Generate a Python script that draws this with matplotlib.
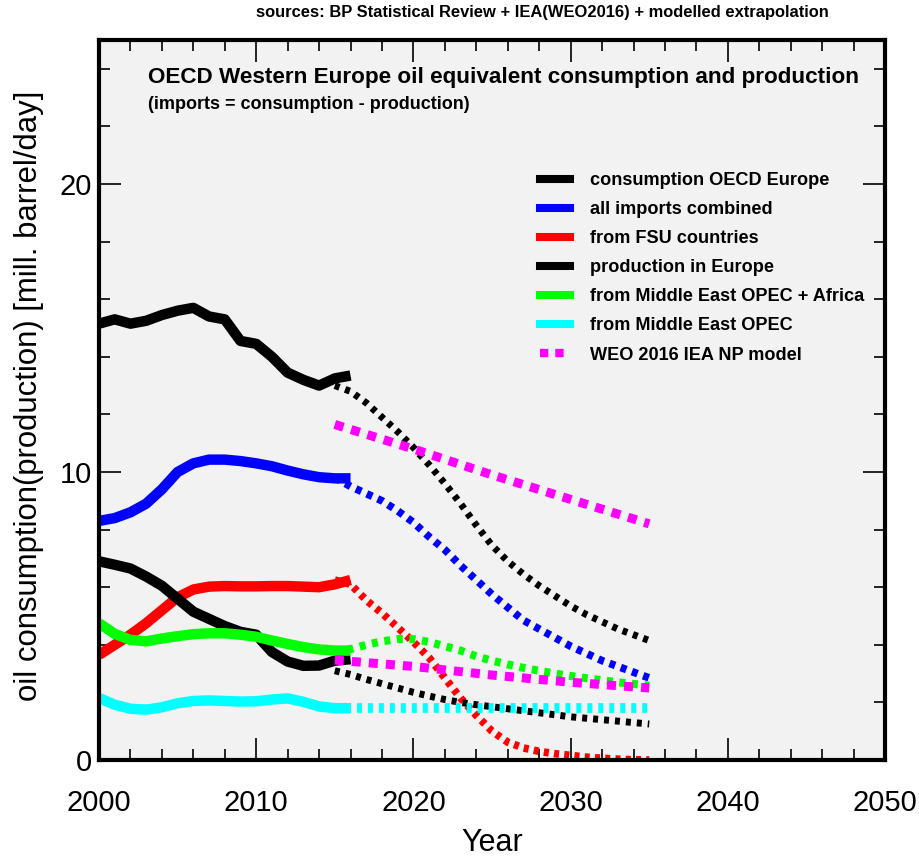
import numpy as np
import matplotlib
matplotlib.use("Agg")
import matplotlib.pyplot as plt
from matplotlib.lines import Line2D

plt.rcParams['font.family'] = ['Liberation Sans', 'DejaVu Sans']
plt.rcParams['lines.scale_dashes'] = False

# historical years (solid) and extrapolation years (dotted)
hist_years = list(range(2000, 2017))
fut_years = list(range(2015, 2036))
weo_years = [2015, 2020, 2025, 2030, 2035]

consumption = [15.15, 15.3, 15.15, 15.25, 15.45, 15.6, 15.7, 15.4, 15.3, 14.55,
               14.45, 14.0, 13.45, 13.2, 13.0, 13.25, 13.35]
consumption_fut = [13.0, 12.8, 12.4, 11.9, 11.4, 10.85, 10.25, 9.6, 8.9, 8.15, 7.45,
                   6.9, 6.45, 6.05, 5.7, 5.35, 5.05, 4.8, 4.55, 4.35, 4.15]

imports = [8.3, 8.4, 8.6, 8.9, 9.4, 10.0, 10.3, 10.43, 10.43, 10.38, 10.3, 10.2,
           10.05, 9.92, 9.82, 9.78, 9.78]
imports_fut = [9.8, 9.5, 9.25, 9.0, 8.65, 8.25, 7.75, 7.3, 6.75, 6.25, 5.75, 5.3,
               4.85, 4.55, 4.25, 3.95, 3.7, 3.45, 3.25, 3.05, 2.85]

fsu = [3.65, 4.0, 4.35, 4.75, 5.2, 5.65, 5.92, 6.02, 6.04, 6.03, 6.03, 6.04, 6.04,
       6.02, 6.0, 6.1, 6.25]
fsu_fut = [6.25, 6.1, 5.55, 5.1, 4.6, 4.1, 3.55, 2.85, 2.15, 1.55, 1.0, 0.62, 0.42,
           0.3, 0.22, 0.16, 0.1, 0.06, 0.03, 0.01, 0.0]

production = [6.9, 6.78, 6.65, 6.37, 6.05, 5.6, 5.15, 4.9, 4.65, 4.45, 4.35, 3.75,
              3.42, 3.27, 3.28, 3.45, 3.5]
production_fut = [3.1, 2.97, 2.8, 2.65, 2.5, 2.35, 2.22, 2.1, 2.0, 1.92, 1.85, 1.78,
                  1.71, 1.64, 1.57, 1.5, 1.45, 1.4, 1.35, 1.3, 1.25]

me_africa = [4.75, 4.38, 4.17, 4.12, 4.22, 4.3, 4.37, 4.4, 4.4, 4.35, 4.28, 4.15,
             4.03, 3.92, 3.84, 3.8, 3.8]
me_africa_fut = [3.8, 3.85, 4.0, 4.12, 4.2, 4.2, 4.1, 3.95, 3.8, 3.6, 3.45, 3.32,
                 3.2, 3.1, 3.0, 2.92, 2.84, 2.77, 2.7, 2.64, 2.58]

me_opec = [2.15, 1.92, 1.78, 1.75, 1.83, 1.97, 2.05, 2.07, 2.05, 2.03, 2.04, 2.1,
           2.14, 2.02, 1.86, 1.8, 1.8]
me_opec_fut = [1.8] * len(fut_years)

weo_consumption = [11.65, 10.8, 9.9, 9.05, 8.2]
weo_production = [3.47, 3.25, 2.95, 2.7, 2.5]

labels = ["consumption OECD Europe", "all imports combined", "from FSU countries",
          "production in Europe", "from Middle East OPEC + Africa",
          "from Middle East OPEC", "WEO 2016 IEA NP model"]

fig = plt.figure(figsize=(9.2, 8.58), dpi=100)
ax = fig.add_axes([0.1076, 0.1142, 0.8544, 0.8392])
ax.set_facecolor('#f2f2f2')

solid_lw = 7.5
series = [
    (consumption, consumption_fut, 'black', 5.0, (3.6, 4.3)),
    (imports, imports_fut, '#0000ff', 5.5, (4.3, 4.3)),
    (fsu, fsu_fut, '#ff0000', 5.5, (3.6, 3.8)),
    (production, production_fut, 'black', 5.0, (3.6, 4.3)),
    (me_africa, me_africa_fut, '#00ff00', 5.8, (4.3, 4.8)),
    (me_opec, me_opec_fut, '#00ffff', 7.0, (3.6, 4.3)),
]
for hist, fut, col, lw, dash in series:
    ax.plot(hist_years, hist, color=col, lw=solid_lw, solid_capstyle='butt',
            solid_joinstyle='round')
    ax.plot(fut_years, fut, color=col, lw=lw, dashes=dash, dash_capstyle='butt')

ax.plot(weo_years, weo_consumption, color='#ff00ff', lw=6.5, dashes=(6.5, 5.8))
ax.plot(weo_years, weo_production, color='#ff00ff', lw=6.5, dashes=(6.5, 5.8))
ax.axhline(0, color='#550000', lw=1.5)

ax.set_xlim(2000, 2050)
ax.set_ylim(0, 25)
ax.set_xticks(range(2000, 2051, 10))
ax.set_xticks(range(2000, 2051, 2), minor=True)
ax.set_yticks([0, 10, 20])
ax.set_yticks(range(0, 25, 2), minor=True)
ax.tick_params(which='both', direction='in', top=True, right=True, width=1.2,
               colors='black')
ax.tick_params(which='major', length=16, labelsize=21)
ax.tick_params(which='minor', length=8)
ax.tick_params(axis='x', which='major', pad=21)
ax.tick_params(axis='y', which='major', pad=5)
for sp in ax.spines.values():
    sp.set_linewidth(3)

ax.set_xlabel("Year", fontsize=22, labelpad=8)
ax.set_ylabel("oil consumption(production) [mill. barrel/day]", fontsize=22.4, labelpad=4)
ax.yaxis.set_label_coords(-0.07, 0.506)

fig.text(0.590, 0.986, "sources: BP Statistical Review + IEA(WEO2016) + modelled extrapolation",
         ha='center', va='center', fontsize=11.9, fontweight='bold')
fig.text(0.161, 0.910, "OECD Western Europe oil equivalent consumption and production",
         ha='left', va='center', fontsize=16.2, fontweight='bold')
fig.text(0.161, 0.878, "(imports = consumption - production)",
         ha='left', va='center', fontsize=13, fontweight='bold')

handles = [Line2D([], [], color='black', lw=5.8),
           Line2D([], [], color='#0000ff', lw=5.8),
           Line2D([], [], color='#ff0000', lw=5.8),
           Line2D([], [], color='black', lw=5.8),
           Line2D([], [], color='#00ff00', lw=5.8),
           Line2D([], [], color='#00ffff', lw=5.8),
           Line2D([], [], color='#ff00ff', lw=6, dashes=(6, 5))]
leg = ax.legend(handles, labels, loc='upper left', bbox_to_anchor=(0.587, 0.799),
                bbox_transform=fig.transFigure, frameon=False, borderpad=0,
                borderaxespad=0, handlelength=1.65, handletextpad=1.1,
                labelspacing=0.66, prop={'size': 13.1, 'weight': 'bold'})

fig.savefig("out.png", dpi=100)
